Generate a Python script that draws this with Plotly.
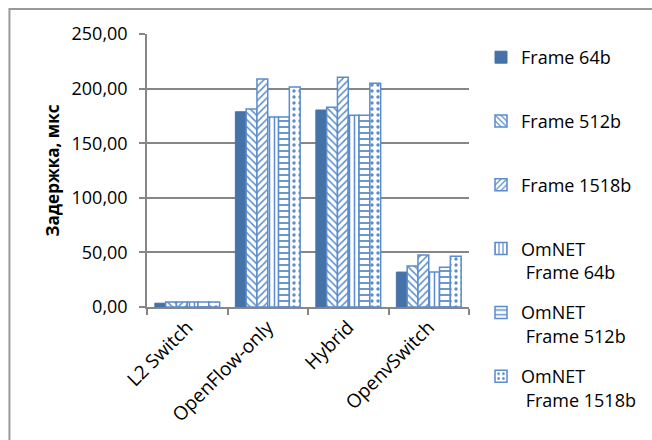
import plotly.graph_objects as go

categories = ["L2 Switch", "OpenFlow-only", "Hybrid", "OpenvSwitch"]
series_names = ["Frame 64b", "Frame 512b", "Frame 1518b",
                "OmNET<br> Frame 64b", "OmNET<br> Frame 512b", "OmNET<br> Frame 1518b"]
frame64 = [3.5, 178.8, 180.4, 32.0]
frame512 = [4.5, 181.3, 182.9, 37.5]
frame1518 = [4.5, 208.8, 210.3, 47.6]
omnet64 = [4.5, 174.0, 175.5, 32.0]
omnet512 = [4.5, 174.0, 175.5, 36.3]
omnet1518 = [4.5, 201.5, 204.8, 46.4]
series_values = [frame64, frame512, frame1518, omnet64, omnet512, omnet1518]

DARK = "#4673A7"
LIGHT = "#5B8CCB"
patterns = ["", "\\", "/", "|", "-", "."]
sizes = [6, 5, 5, 5, 6, 6]
solid = [0.3, 0.3, 0.3, 0.3, 0.3, 0.25]

W, H = 652, 440
L, R, T, B = 147, 182, 34, 133
pw, ph = W - L - R, H - T - B

fig = go.Figure()
for i, (name, vals) in enumerate(zip(series_names, series_values)):
    label = name if "<br>" in name else name + "<br> "
    if patterns[i] == "":
        marker = dict(color=DARK, line=dict(color=DARK, width=1))
    else:
        marker = dict(color="white",
                      line=dict(color=LIGHT, width=1.5),
                      pattern=dict(shape=patterns[i], fgcolor=LIGHT, bgcolor="white",
                                   size=sizes[i], solidity=solid[i], fillmode="replace"))
    fig.add_trace(go.Bar(x=categories, y=vals, name=label, marker=marker,
                         legendgroup=str(i)))

fig.update_layout(
    width=W, height=H,
    margin=dict(l=L, r=R, t=T, b=B),
    paper_bgcolor="white", plot_bgcolor="white",
    separators=", ",
    barmode="group", bargap=0.195, bargroupgap=0,
    font=dict(family="Open Sans", size=18, color="black"),
    showlegend=True,
    legend=dict(x=(481 - L) / pw, y=(307 - 39) / ph, xanchor="left", yanchor="top",
                valign="top", tracegroupgap=14, font=dict(size=18),
                maxheight=440, bgcolor="rgba(0,0,0,0)"),
    shapes=[dict(type="rect", xref="paper", yref="paper",
                 x0=(9 - L) / pw, x1=(700 - L) / pw,
                 y0=(T + ph - 480) / ph, y1=(T + ph - 9) / ph,
                 line=dict(color="#999999", width=2), fillcolor="rgba(0,0,0,0)", layer="below")],
)
fig.update_xaxes(showline=True, linecolor="#868686", linewidth=1.5,
                 ticks="outside", tickson="boundaries", ticklen=6, tickcolor="#868686",
                 tickwidth=1.5, tickangle=-45, showgrid=False,
                 tickfont=dict(size=19))
fig.update_yaxes(range=[0, 250], dtick=50, tickformat=".2f",
                 showline=True, linecolor="#868686", linewidth=1.5,
                 ticks="outside", ticklen=6, tickcolor="#868686", tickwidth=1.5,
                 showgrid=True, gridcolor="#868686", gridwidth=1.5,
                 zeroline=False, ticklabelstandoff=8,
                 tickfont=dict(size=18),
                 title=dict(text="<b>Задержка, мкс</b>", font=dict(size=17), standoff=8))

fig.write_html("out.html")
